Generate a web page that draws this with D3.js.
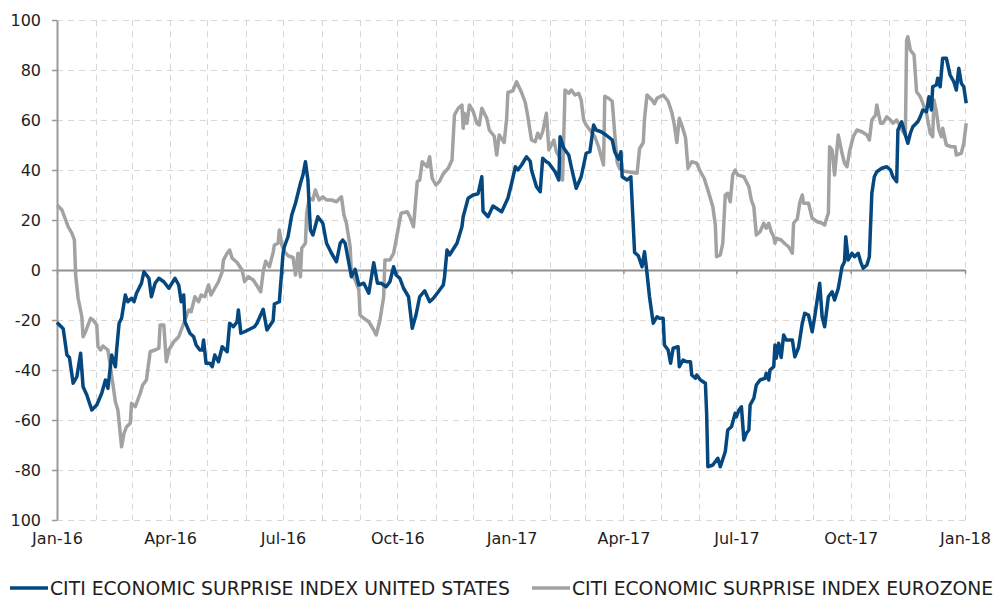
<!DOCTYPE html>
<html><head><meta charset="utf-8">
<script src="https://cdn.jsdelivr.net/npm/d3@7"></script>
<style>body{margin:0;background:#fff}svg{display:block}</style>
</head><body>
<svg id="c" width="993" height="599"></svg>
<script>
const usDates = ["2016-01-01","2016-01-06","2016-01-09","2016-01-11","2016-01-14","2016-01-17","2016-01-20","2016-01-22","2016-01-25","2016-01-29",
"2016-02-02","2016-02-06","2016-02-09","2016-02-11","2016-02-14","2016-02-17","2016-02-18","2016-02-20","2016-02-22","2016-02-25","2016-02-27",
"2016-03-01","2016-03-03","2016-03-05","2016-03-09","2016-03-11","2016-03-15","2016-03-17","2016-03-20","2016-03-23","2016-03-27","2016-03-31",
"2016-04-05","2016-04-08","2016-04-10","2016-04-12","2016-04-13","2016-04-17","2016-04-20","2016-04-22","2016-04-25","2016-04-27","2016-04-28","2016-04-30",
"2016-05-03","2016-05-05","2016-05-07","2016-05-10","2016-05-13","2016-05-17","2016-05-19","2016-05-22","2016-05-25","2016-05-26","2016-05-28","2016-05-31",
"2016-06-08","2016-06-10","2016-06-15","2016-06-18","2016-06-23","2016-06-24","2016-06-28",
"2016-07-01","2016-07-02","2016-07-05","2016-07-08","2016-07-11","2016-07-15","2016-07-17","2016-07-19","2016-07-21","2016-07-23","2016-07-25","2016-07-29",
"2016-08-02","2016-08-05","2016-08-09","2016-08-13","2016-08-16","2016-08-18","2016-08-20","2016-08-23","2016-08-25","2016-08-28","2016-08-31",
"2016-09-04","2016-09-08","2016-09-12","2016-09-15","2016-09-18","2016-09-22","2016-09-25","2016-09-28","2016-09-30",
"2016-10-03","2016-10-06","2016-10-10","2016-10-13","2016-10-16","2016-10-19","2016-10-23","2016-10-27","2016-10-30",
"2016-11-03","2016-11-07","2016-11-08","2016-11-10","2016-11-12","2016-11-18","2016-11-22","2016-11-23","2016-11-27",
"2016-12-01","2016-12-05","2016-12-08","2016-12-09","2016-12-13","2016-12-17","2016-12-24","2016-12-29",
"2017-01-01","2017-01-04","2017-01-06","2017-01-09","2017-01-13","2017-01-16","2017-01-17","2017-01-21","2017-01-24","2017-01-26","2017-01-29","2017-01-31",
"2017-02-05","2017-02-08","2017-02-09","2017-02-12","2017-02-16","2017-02-18","2017-02-22","2017-02-26",
"2017-03-02","2017-03-05","2017-03-08","2017-03-10","2017-03-14","2017-03-18","2017-03-23","2017-03-25","2017-03-28","2017-03-30","2017-03-31",
"2017-04-04","2017-04-07","2017-04-10","2017-04-13","2017-04-16","2017-04-18","2017-04-20","2017-04-22","2017-04-25","2017-04-28","2017-04-30",
"2017-05-03","2017-05-04","2017-05-07","2017-05-09","2017-05-11","2017-05-15","2017-05-16","2017-05-19","2017-05-22","2017-05-25","2017-05-26","2017-05-29","2017-05-30",
"2017-06-02","2017-06-06","2017-06-07","2017-06-08","2017-06-12","2017-06-16","2017-06-18","2017-06-22","2017-06-24","2017-06-27","2017-06-30",
"2017-07-01","2017-07-03","2017-07-05","2017-07-07","2017-07-09","2017-07-11","2017-07-12","2017-07-15","2017-07-17","2017-07-20","2017-07-24","2017-07-25","2017-07-27","2017-07-28","2017-07-31",
"2017-08-01","2017-08-02","2017-08-04","2017-08-06","2017-08-08","2017-08-10","2017-08-15","2017-08-17","2017-08-20","2017-08-23","2017-08-25","2017-08-28","2017-08-31",
"2017-09-02","2017-09-06","2017-09-08","2017-09-10","2017-09-13","2017-09-16","2017-09-18","2017-09-21","2017-09-24","2017-09-26","2017-09-27","2017-09-29",
"2017-10-02","2017-10-04","2017-10-07","2017-10-09","2017-10-11","2017-10-14","2017-10-16","2017-10-18","2017-10-20","2017-10-22","2017-10-26","2017-10-30",
"2017-11-02","2017-11-04","2017-11-07","2017-11-08","2017-11-11","2017-11-14","2017-11-16","2017-11-18","2017-11-20","2017-11-24","2017-11-26","2017-11-28",
"2017-12-01","2017-12-03","2017-12-05","2017-12-06","2017-12-09","2017-12-10","2017-12-12","2017-12-14","2017-12-17","2017-12-20","2017-12-23","2017-12-25","2017-12-27","2017-12-29","2017-12-31",
"2018-01-02"];
const usValues = [-21,-23.5,-34,-35,-45.3,-42.7,-33.3,-46.7,-50,-56,
-54,-49.3,-44,-47.3,-34,-38.7,-32,-21.3,-19.3,-10,-12.7,
-11.3,-12.7,-9.3,-5.3,-0.7,-3.3,-10.7,-5.3,-3.3,-4.7,-7.3,
-3.3,-6,-12.7,-10,-20.7,-25.3,-26.7,-30,-32,-32,-28,-37.3,
-37.3,-38.7,-34,-36.7,-30.7,-32.7,-21.3,-22.7,-20.7,-16,-25.3,-24.7,
-22.7,-21.3,-15.7,-24,-20.3,-13.6,-12.7,
6.7,9.3,13.3,22,26.7,34.7,38,43.3,36,16,14,21.3,
18.7,10.7,6.7,3.3,10.7,12,10.7,2.7,-2.7,0.3,-6,
-5.3,-9.3,2.9,-5.3,-5.3,-6.7,-4.7,1.3,-2,
-3.3,-7.3,-10.7,-23.3,-18,-10.7,-8.3,-12.7,-11.3,
-8.7,-6,-2.7,8,6,10.7,17.3,21.3,28.7,
30,30.5,37.3,23.5,21.3,25.6,23.3,28.7,
34.7,41.3,40,42,45.3,43.5,40,33.3,31.3,44.7,43.3,42.7,
39.3,36,53.3,48.7,46,41.3,32.7,37.3,
46.7,47.3,58,56,55.3,54,52,47.3,44.3,47.3,37.3,
36,37.3,7,5.7,1.3,7.3,-1.3,-10.7,-21.3,-18.7,-19.3,
-19.3,-30,-32,-37.3,-31.3,-30.7,-38.7,-36,-36.7,-36.7,-42,-43.3,-42,
-44,-45.3,-57.3,-78.7,-78,-75.3,-78.7,-72.7,-64,-62.7,-57.3,
-58.7,-56,-54.7,-68,-65.3,-64,-54,-51.3,-46,-44,-43.3,-41.3,-44,-40,-38.7,
-30,-35.3,-29.3,-35,-26,-28,-28,-34.7,-31,-21.3,-17.3,-18,-24.7,
-18.7,-5.3,-18.7,-22.7,-10.7,-8.7,-12,-7.3,1.3,3.3,13.3,4,
6.7,5.3,6.7,3.3,0.7,2,5.3,30.7,37.3,39.3,40.7,41.3,
40,37.3,35.3,56,59.3,54,50.7,54.7,57.3,59.3,61.3,64,
63.3,69.3,64,73.3,74,76.7,73.3,84.7,84.7,78,75.3,72,80.7,74.7,73.3,
66.7];

const ezDates = ["2016-01-01","2016-01-05","2016-01-07","2016-01-10","2016-01-13","2016-01-15","2016-01-16","2016-01-18","2016-01-21","2016-01-22","2016-01-24","2016-01-28","2016-01-30",
"2016-02-02","2016-02-03","2016-02-05","2016-02-07","2016-02-11","2016-02-13","2016-02-17","2016-02-19","2016-02-22","2016-02-24","2016-02-26","2016-02-29",
"2016-03-01","2016-03-04","2016-03-08","2016-03-10","2016-03-13","2016-03-16","2016-03-20","2016-03-23","2016-03-24","2016-03-27","2016-03-29","2016-03-31",
"2016-04-04","2016-04-08","2016-04-10","2016-04-13","2016-04-16","2016-04-18","2016-04-21","2016-04-24","2016-04-26","2016-04-29",
"2016-05-02","2016-05-04","2016-05-07","2016-05-10","2016-05-13","2016-05-14","2016-05-17","2016-05-19","2016-05-21","2016-05-25","2016-05-29","2016-05-31",
"2016-06-03","2016-06-07","2016-06-10","2016-06-13","2016-06-15","2016-06-17","2016-06-20","2016-06-23","2016-06-24","2016-06-27","2016-06-28","2016-06-30",
"2016-07-02","2016-07-05","2016-07-09","2016-07-11","2016-07-13","2016-07-15","2016-07-16","2016-07-19","2016-07-20","2016-07-22","2016-07-25","2016-07-27","2016-07-30",
"2016-08-02","2016-08-05","2016-08-09","2016-08-13","2016-08-17","2016-08-19","2016-08-21","2016-08-24","2016-08-25","2016-08-28","2016-08-31",
"2016-09-01","2016-09-04","2016-09-08","2016-09-12","2016-09-14","2016-09-17","2016-09-20","2016-09-21","2016-09-25","2016-09-28",
"2016-10-02","2016-10-04","2016-10-09","2016-10-11","2016-10-14","2016-10-17","2016-10-19","2016-10-21","2016-10-25","2016-10-27","2016-10-29",
"2016-11-01","2016-11-04","2016-11-07","2016-11-11","2016-11-14","2016-11-16","2016-11-19","2016-11-22","2016-11-23","2016-11-24","2016-11-26","2016-11-28",
"2016-12-01","2016-12-04","2016-12-06","2016-12-08","2016-12-12","2016-12-14","2016-12-18","2016-12-20","2016-12-22","2016-12-26","2016-12-28","2016-12-29",
"2017-01-02","2017-01-05","2017-01-09","2017-01-12","2017-01-14","2017-01-17","2017-01-20","2017-01-22","2017-01-24","2017-01-26","2017-01-29","2017-01-31",
"2017-02-04","2017-02-06","2017-02-09","2017-02-11","2017-02-13","2017-02-16","2017-02-18","2017-02-21","2017-02-24","2017-02-26","2017-02-28",
"2017-03-02","2017-03-05","2017-03-09","2017-03-12","2017-03-16","2017-03-17","2017-03-20","2017-03-23","2017-03-25","2017-03-27","2017-03-29",
"2017-04-02","2017-04-12","2017-04-14","2017-04-17","2017-04-18","2017-04-20","2017-04-24","2017-04-26","2017-04-28",
"2017-05-03","2017-05-07","2017-05-10","2017-05-12","2017-05-14","2017-05-16","2017-05-18","2017-05-21","2017-05-23","2017-05-26","2017-05-30",
"2017-06-02","2017-06-05","2017-06-08","2017-06-12","2017-06-14","2017-06-15","2017-06-18","2017-06-20","2017-06-22","2017-06-24","2017-06-26","2017-06-28","2017-06-30",
"2017-07-02","2017-07-07","2017-07-11","2017-07-13","2017-07-15","2017-07-17","2017-07-20","2017-07-23","2017-07-25","2017-07-27","2017-07-29","2017-07-31",
"2017-08-01","2017-08-02","2017-08-06","2017-08-09","2017-08-12","2017-08-15","2017-08-16","2017-08-19","2017-08-21","2017-08-23","2017-08-24","2017-08-28","2017-08-31",
"2017-09-04","2017-09-08","2017-09-10","2017-09-12","2017-09-13","2017-09-14","2017-09-16","2017-09-18","2017-09-21","2017-09-24","2017-09-26","2017-09-28","2017-09-30",
"2017-10-03","2017-10-06","2017-10-10","2017-10-14","2017-10-16","2017-10-18","2017-10-21","2017-10-22","2017-10-25","2017-10-27","2017-10-30",
"2017-11-02","2017-11-04","2017-11-07","2017-11-10","2017-11-12","2017-11-14","2017-11-15","2017-11-16","2017-11-18","2017-11-21","2017-11-23","2017-11-26","2017-11-28",
"2017-12-01","2017-12-04","2017-12-06","2017-12-07","2017-12-09","2017-12-11","2017-12-13","2017-12-14","2017-12-17","2017-12-21","2017-12-24","2017-12-25","2017-12-29","2017-12-31",
"2018-01-02"];
const ezValues = [26,24,21.3,17.3,14.7,12,-2,-11.3,-18.7,-26.7,-24.7,-19.3,-20,
-22,-30.7,-32,-30.4,-32,-38.7,-52.7,-56,-70.7,-65.3,-62.7,-61.3,
-53.3,-54.7,-49.3,-46,-44,-32.7,-32,-31.3,-22,-22,-36.7,-32,
-28.7,-26.7,-24,-20,-16,-16.7,-10.7,-12.7,-10,-10.7,
-6,-10,-7.3,-4.7,-0.7,4,6.7,8,4.7,3,0,-4.7,
-2.7,-4,-6.3,-8.7,-0.7,3.5,1.3,7,10,10.7,16,10,
7.5,5.7,5,-2,6.7,-2.7,8.7,10.7,22.7,28.7,28,32,28,
29.3,28,28,27.3,29.3,22,18.7,9.3,-1.3,-4,-8,
-18,-19.3,-20.7,-24,-26,-20,-10.7,4,4,6.7,
17.3,22.7,23.3,21.3,17.3,35.3,36,43.3,41.3,45.3,36.7,
34,35.5,38.5,40.7,44,62,64.7,66,56.7,62.7,58.7,66,
63.5,58.7,58,64.7,60.7,56,53.5,46,54,51,60.5,71,
71.7,75.3,71,67,61.5,52,51.3,54.7,52.7,55.3,62.7,48,
52,47.3,44.7,36,72,70.7,72,70,70.7,68,60,
58,56,53.3,49.3,42,69.5,68.7,67.5,54.5,43,40.5,
39.5,38.7,48.5,51,60.5,70,68,66.5,68.7,
70,67.5,63,58,51,60.7,58,53,40.7,43.3,42.7,
39.3,36.7,32,25.3,18,5.3,6,10.7,30,30.7,27.3,38,40,
38,37.3,33.3,28,25.3,14,15.3,18.7,16.7,18.7,15.3,13.3,
10.7,12.7,12,10.5,9.3,6.7,18.7,20.5,27,30,26.7,26.7,20.7,
19.3,18.7,18,21.3,22.7,49.3,48,38,54,46.7,42.7,41.3,47.3,
53.3,56,55.3,54,52,60,62,66,58.7,58.7,61.3,
60,58.7,60,57.3,55.3,54,92,93.3,88,86,71.3,69.3,66.7,
62.7,54.7,53.3,68,63.3,56,53.3,56.7,50,49.3,49.3,46,46.7,50.7,
58.7];

const yTickValues = [100,80,60,40,20,0,-20,-40,-60,-80,-100];
const yTickLabels = ["100","80","60","40","20","0","-20","-40","-60","-80","100"];
const seriesNames = ["CITI ECONOMIC SURPRISE INDEX UNITED STATES","CITI ECONOMIC SURPRISE INDEX EUROZONE"];
const seriesColors = ["#05487f","#a2a2a2"];

const parse = d3.timeParse("%Y-%m-%d");
const svg = d3.select("#c");
const FONT = "'DejaVu Sans', Verdana, sans-serif";
const x = d3.scaleTime().domain([parse("2016-01-01"), parse("2018-01-01")]).range([57, 965]);
const y = d3.scaleLinear().domain([-100, 100]).range([520, 20]);

// horizontal dashed grid
svg.append("g").selectAll("line").data(yTickValues.filter(v => v !== 0)).join("line")
  .attr("x1", 57).attr("x2", 965)
  .attr("y1", d => y(d) + 0.5).attr("y2", d => y(d) + 0.5)
  .attr("stroke", "#d8d8d8").attr("stroke-width", 1).attr("stroke-dasharray", "6,5");

// vertical dashed monthly grid
const months = d3.timeMonth.range(parse("2016-02-01"), parse("2018-01-02"));
svg.append("g").selectAll("line").data(months).join("line")
  .attr("x1", d => Math.round(x(d)) + 0.5).attr("x2", d => Math.round(x(d)) + 0.5)
  .attr("y1", 20).attr("y2", 520)
  .attr("stroke", "#d8d8d8").attr("stroke-width", 1).attr("stroke-dasharray", "6,5");

// zero axis with quarterly ticks
const zeroAxis = svg.append("g").attr("transform", `translate(0,${y(0)})`)
  .call(d3.axisBottom(x).ticks(d3.timeMonth.every(3)).tickSize(4).tickSizeOuter(0).tickFormat(""));
zeroAxis.select(".domain").attr("stroke", "#8f8f8f").attr("stroke-width", 2);
zeroAxis.selectAll(".tick line").attr("stroke", "#8f8f8f").attr("stroke-width", 1.5);

// x labels
const xAxis = svg.append("g").attr("transform", `translate(0,520)`)
  .call(d3.axisBottom(x).ticks(d3.timeMonth.every(3)).tickSize(0).tickPadding(13).tickFormat(d3.timeFormat("%b-%y")));
xAxis.select(".domain").remove();
xAxis.selectAll("text").attr("font-family", FONT).attr("font-size", 16).attr("fill", "#1e1e1e");

// y axis
const yAxis = svg.append("g").attr("transform", "translate(57,0)")
  .call(d3.axisLeft(y).tickValues(yTickValues).tickFormat((d, i) => yTickLabels[i]).tickSize(5).tickSizeOuter(0).tickPadding(11));
yAxis.select(".domain").attr("stroke", "#9a9a9a").attr("stroke-width", 2);
yAxis.selectAll(".tick line").attr("stroke", "#9a9a9a").attr("stroke-width", 1.5);
yAxis.selectAll("text").attr("font-family", FONT).attr("font-size", 16).attr("fill", "#1e1e1e");

// lines
const line = d3.line().x(d => x(d.date)).y(d => y(d.value));
const ez = ezDates.map((d, i) => ({date: parse(d), value: ezValues[i]}));
const us = usDates.map((d, i) => ({date: parse(d), value: usValues[i]}));
svg.append("path").datum(ez).attr("d", line).attr("fill", "none")
  .attr("stroke", seriesColors[1]).attr("stroke-width", 3.5).attr("stroke-linejoin", "round");
svg.append("path").datum(us).attr("d", line).attr("fill", "none")
  .attr("stroke", seriesColors[0]).attr("stroke-width", 3.5).attr("stroke-linejoin", "round");

// legend
const legendX = [10, 532];
const lg = svg.append("g").selectAll("g").data(seriesNames).join("g")
  .attr("transform", (d, i) => `translate(${legendX[i]},588)`);
lg.append("line").attr("x1", 0).attr("x2", 38).attr("y1", 0).attr("y2", 0)
  .attr("stroke", (d, i) => seriesColors[i]).attr("stroke-width", 3.5);
lg.append("text").attr("x", 40).attr("y", 0).attr("dy", "0.36em")
  .attr("font-family", FONT).attr("font-size", 18.8).attr("fill", "#1e1e1e").text(d => d);
</script>
</body></html>
